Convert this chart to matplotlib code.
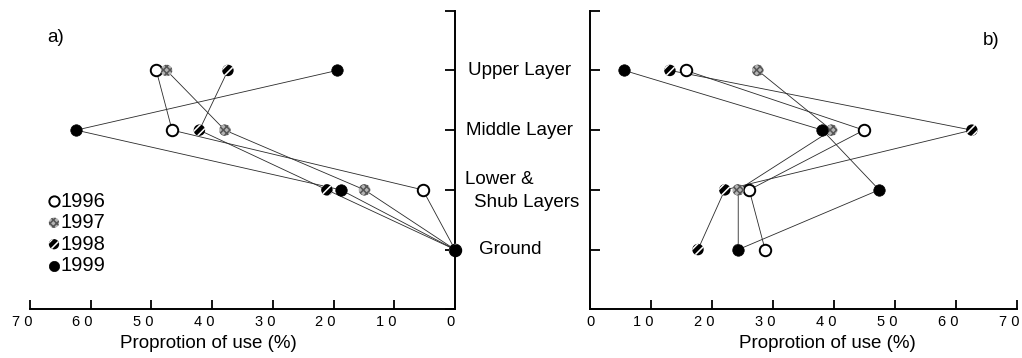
import matplotlib.pyplot as plt
from matplotlib.transforms import blended_transform_factory, ScaledTranslation

plt.rcParams['font.family'] = ['Liberation Sans', 'DejaVu Sans']
plt.rcParams['hatch.linewidth'] = 1.1

# layers from bottom to top (y positions 0..3)
layers = ['Ground', 'Lower &\nShub Layers', 'Middle Layer', 'Upper Layer']
years = ['1996', '1997', '1998', '1999']

# a) proportion of use (%) per layer: ground, lower, middle, upper
a_1996 = [0, 5.3, 46.6, 49.2]
a_1997 = [0, 14.9, 37.9, 47.5]
a_1998 = [0, 21.1, 42.1, 37.4]
a_1999 = [0, 18.8, 62.4, 19.4]

# b)
b_1996 = [28.7, 26.1, 44.9, 15.7]
b_1997 = [24.3, 24.3, 39.6, 27.5]
b_1998 = [17.7, 22.1, 62.6, 13.1]
b_1999 = [24.3, 47.4, 38.1, 5.6]

xticks = [0, 10, 20, 30, 40, 50, 60, 70]
xticklabels = ['0', '1 0', '2 0', '3 0', '4 0', '5 0', '6 0', '7 0']

styles = {
    '1996': dict(facecolors='white', edgecolors='black', linewidths=1.4),
    '1997': dict(facecolors='#b4b4b4', edgecolors='#555555', hatch='xxxxx', linewidths=0),
    '1998': dict(facecolors='black', edgecolors='white', hatch='////', linewidths=0),
    '1999': dict(facecolors='black', edgecolors='black', linewidths=0.5),
}

W, H = 1022, 358
fig = plt.figure(figsize=(W / 100, H / 100), dpi=100)
bot, top = 309.3, 10.7
axL = fig.add_axes([30 / W, 1 - bot / H, 425 / W, (bot - top) / H])
axR = fig.add_axes([590 / W, 1 - bot / H, 427 / W, (bot - top) / H])

ypos = list(range(len(layers)))


def draw(ax, series):
    for yr, vals in zip(years, series):
        ax.plot(vals, ypos, color='#2a2a2a', lw=0.6, zorder=2)
    for yr, vals in zip(years, series):
        ax.scatter(vals, ypos, s=68, zorder=3, clip_on=False, **styles[yr])


def style_axes(ax, side):
    ax.set_ylim(-1, 4)
    ax.set_yticks(range(-1, 5))
    ax.set_yticklabels([])
    ax.set_xticks(xticks)
    ax.set_xticklabels(xticklabels, fontsize=10.5)
    for s in ['top', 'left', 'right']:
        ax.spines[s].set_visible(False)
    ax.spines[side].set_visible(True)
    for s in ['bottom', side]:
        ax.spines[s].set_linewidth(1.4)
    ax.tick_params(axis='x', direction='in', length=6.5, width=1.3, pad=4)
    ax.tick_params(axis='y', direction='in', length=7.5, width=1.3,
                   left=(side == 'left'), right=(side == 'right'))
    for lab in ax.get_xticklabels():
        t = lab.get_text()
        dx = -8 if len(t) > 1 else (-5 if side == 'right' else 0)
        lab.set_transform(lab.get_transform() + ScaledTranslation(dx / 100, 0, fig.dpi_scale_trans))


draw(axL, [a_1996, a_1997, a_1998, a_1999])
draw(axR, [b_1996, b_1997, b_1998, b_1999])
axL.set_xlim(70, 0)
axR.set_xlim(0, 70)
style_axes(axL, 'right')
style_axes(axR, 'left')

axL.set_xlabel('Proprotion of use (%)', fontsize=13.5)
axR.set_xlabel('Proprotion of use (%)', fontsize=13.5)
axL.xaxis.set_label_coords(0.419, -0.085)
axR.xaxis.set_label_coords(0.555, -0.085)

axL.text(0.04, 0.909, 'a)', transform=axL.transAxes, fontsize=13.5, va='center')
axR.text(0.92, 0.90, 'b)', transform=axR.transAxes, fontsize=13.5, va='center')

# layer names between the panels
tr = blended_transform_factory(fig.transFigure, axR.transData)
axR.text(510 / W, 0, layers[0], transform=tr, fontsize=13.5, ha='center', va='center')
low1, low2 = layers[1].split('\n')
axR.text(465 / W, 1 + 0.18, low1, transform=tr, fontsize=13.5, ha='left', va='center')
axR.text(474 / W, 1 - 0.22, low2, transform=tr, fontsize=13.5, ha='left', va='center')
axR.text(520 / W, 2, layers[2], transform=tr, fontsize=13.5, ha='center', va='center')
axR.text(520 / W, 3, layers[3], transform=tr, fontsize=13.5, ha='center', va='center')

# legend, hand made
for i, yr in enumerate(years):
    yy = 0.362 - 0.072 * i
    axL.scatter([0.0565], [yy], s=55, transform=axL.transAxes, zorder=3,
                clip_on=False, **styles[yr])
    axL.text(0.0706, yy, yr, transform=axL.transAxes, fontsize=14.5, va='center')

fig.savefig('out.png', dpi=100)
